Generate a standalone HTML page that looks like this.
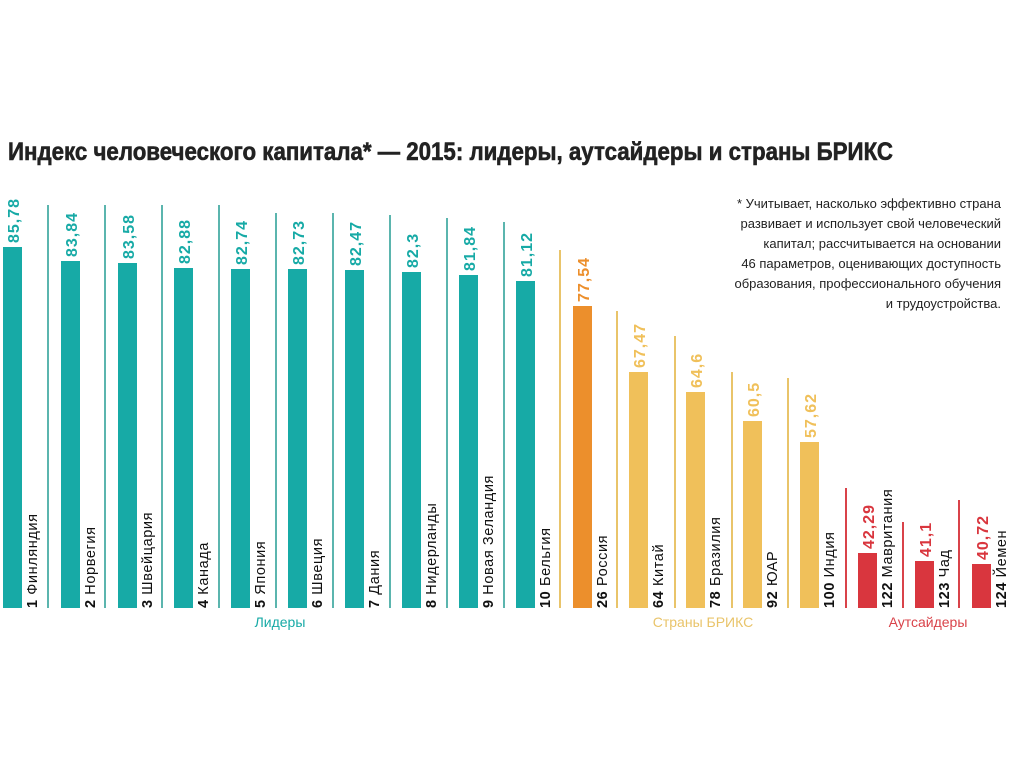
<!DOCTYPE html>
<html><head><meta charset="utf-8"><style>
body{margin:0;background:#fff;}
svg{display:block;font-family:"Liberation Sans","DejaVu Sans",sans-serif;}
</style></head><body>
<svg width="1024" height="767" viewBox="0 0 1024 767">
<text x="8" y="160" font-size="25" font-weight="bold" fill="#222" stroke="#222" stroke-width="0.6" textLength="885" lengthAdjust="spacingAndGlyphs">Индекс человеческого капитала* — 2015: лидеры, аутсайдеры и страны БРИКС</text>
<g font-size="13" fill="#222" text-anchor="end">
<text x="1001" y="208">* Учитывает, насколько эффективно страна</text>
<text x="1001" y="228">развивает и использует свой человеческий</text>
<text x="1001" y="248">капитал; рассчитывается на основании</text>
<text x="1001" y="268">46 параметров, оценивающих доступность</text>
<text x="1001" y="288">образования, профессионального обучения</text>
<text x="1001" y="308">и трудоустройства.</text>
</g>
<g stroke-width="2">
<line x1="48" y1="205" x2="48" y2="608" stroke="#5bb5ae"/>
<line x1="105" y1="205" x2="105" y2="608" stroke="#5bb5ae"/>
<line x1="162" y1="205" x2="162" y2="608" stroke="#5bb5ae"/>
<line x1="219" y1="205" x2="219" y2="608" stroke="#5bb5ae"/>
<line x1="276" y1="213" x2="276" y2="608" stroke="#5bb5ae"/>
<line x1="333" y1="213" x2="333" y2="608" stroke="#5bb5ae"/>
<line x1="390" y1="215" x2="390" y2="608" stroke="#5bb5ae"/>
<line x1="447" y1="218" x2="447" y2="608" stroke="#5bb5ae"/>
<line x1="504" y1="222" x2="504" y2="608" stroke="#5bb5ae"/>
<line x1="560" y1="250" x2="560" y2="608" stroke="#e9c46a"/>
<line x1="617" y1="311" x2="617" y2="608" stroke="#e9c46a"/>
<line x1="675" y1="336" x2="675" y2="608" stroke="#e9c46a"/>
<line x1="732" y1="372" x2="732" y2="608" stroke="#e9c46a"/>
<line x1="788" y1="378" x2="788" y2="608" stroke="#e9c46a"/>
<line x1="846" y1="488" x2="846" y2="608" stroke="#d9434a"/>
<line x1="903" y1="522" x2="903" y2="608" stroke="#d9434a"/>
<line x1="959" y1="500" x2="959" y2="608" stroke="#d9434a"/>
</g>
<g>
<rect x="3" y="247" width="19" height="361" fill="#17aaa6"/>
<rect x="61" y="261" width="19" height="347" fill="#17aaa6"/>
<rect x="118" y="263" width="19" height="345" fill="#17aaa6"/>
<rect x="174" y="268" width="19" height="340" fill="#17aaa6"/>
<rect x="231" y="269" width="19" height="339" fill="#17aaa6"/>
<rect x="288" y="269" width="19" height="339" fill="#17aaa6"/>
<rect x="345" y="270" width="19" height="338" fill="#17aaa6"/>
<rect x="402" y="272" width="19" height="336" fill="#17aaa6"/>
<rect x="459" y="275" width="19" height="333" fill="#17aaa6"/>
<rect x="516" y="281" width="19" height="327" fill="#17aaa6"/>
<rect x="573" y="306" width="19" height="302" fill="#ec8f2c"/>
<rect x="629" y="372" width="19" height="236" fill="#f0c05a"/>
<rect x="686" y="392" width="19" height="216" fill="#f0c05a"/>
<rect x="743" y="421" width="19" height="187" fill="#f0c05a"/>
<rect x="800" y="442" width="19" height="166" fill="#f0c05a"/>
<rect x="858" y="553" width="19" height="55" fill="#d9363e"/>
<rect x="915" y="561" width="19" height="47" fill="#d9363e"/>
<rect x="972" y="564" width="19" height="44" fill="#d9363e"/>
</g>
<g font-size="16" font-weight="bold" letter-spacing="1">
<text transform="translate(19,243) rotate(-90)" fill="#17aaa6">85,78</text>
<text transform="translate(77,257) rotate(-90)" fill="#17aaa6">83,84</text>
<text transform="translate(134,259) rotate(-90)" fill="#17aaa6">83,58</text>
<text transform="translate(190,264) rotate(-90)" fill="#17aaa6">82,88</text>
<text transform="translate(247,265) rotate(-90)" fill="#17aaa6">82,74</text>
<text transform="translate(304,265) rotate(-90)" fill="#17aaa6">82,73</text>
<text transform="translate(361,266) rotate(-90)" fill="#17aaa6">82,47</text>
<text transform="translate(418,268) rotate(-90)" fill="#17aaa6">82,3</text>
<text transform="translate(475,271) rotate(-90)" fill="#17aaa6">81,84</text>
<text transform="translate(532,277) rotate(-90)" fill="#17aaa6">81,12</text>
<text transform="translate(589,302) rotate(-90)" fill="#ec8f2c">77,54</text>
<text transform="translate(645,368) rotate(-90)" fill="#f0c05a">67,47</text>
<text transform="translate(702,388) rotate(-90)" fill="#f0c05a">64,6</text>
<text transform="translate(759,417) rotate(-90)" fill="#f0c05a">60,5</text>
<text transform="translate(816,438) rotate(-90)" fill="#f0c05a">57,62</text>
<text transform="translate(874,549) rotate(-90)" fill="#d9363e">42,29</text>
<text transform="translate(931,557) rotate(-90)" fill="#d9363e">41,1</text>
<text transform="translate(988,560) rotate(-90)" fill="#d9363e">40,72</text>
</g>
<g font-size="14.5" fill="#111" letter-spacing="0.6">
<text transform="translate(37,608) rotate(-90)"><tspan font-weight="bold">1</tspan> Финляндия</text>
<text transform="translate(95,608) rotate(-90)"><tspan font-weight="bold">2</tspan> Норвегия</text>
<text transform="translate(152,608) rotate(-90)"><tspan font-weight="bold">3</tspan> Швейцария</text>
<text transform="translate(208,608) rotate(-90)"><tspan font-weight="bold">4</tspan> Канада</text>
<text transform="translate(265,608) rotate(-90)"><tspan font-weight="bold">5</tspan> Япония</text>
<text transform="translate(322,608) rotate(-90)"><tspan font-weight="bold">6</tspan> Швеция</text>
<text transform="translate(379,608) rotate(-90)"><tspan font-weight="bold">7</tspan> Дания</text>
<text transform="translate(436,608) rotate(-90)"><tspan font-weight="bold">8</tspan> Нидерланды</text>
<text transform="translate(493,608) rotate(-90)"><tspan font-weight="bold">9</tspan> Новая Зеландия</text>
<text transform="translate(550,608) rotate(-90)"><tspan font-weight="bold">10</tspan> Бельгия</text>
<text transform="translate(607,608) rotate(-90)"><tspan font-weight="bold">26</tspan> Россия</text>
<text transform="translate(663,608) rotate(-90)"><tspan font-weight="bold">64</tspan> Китай</text>
<text transform="translate(720,608) rotate(-90)"><tspan font-weight="bold">78</tspan> Бразилия</text>
<text transform="translate(777,608) rotate(-90)"><tspan font-weight="bold">92</tspan> ЮАР</text>
<text transform="translate(834,608) rotate(-90)"><tspan font-weight="bold">100</tspan> Индия</text>
<text transform="translate(892,608) rotate(-90)"><tspan font-weight="bold">122</tspan> Мавритания</text>
<text transform="translate(949,608) rotate(-90)"><tspan font-weight="bold">123</tspan> Чад</text>
<text transform="translate(1006,608) rotate(-90)"><tspan font-weight="bold">124</tspan> Йемен</text>
</g>
<g font-size="14" text-anchor="middle">
<text x="280" y="627" fill="#17aaa6">Лидеры</text>
<text x="703" y="627" fill="#e9c46a">Страны БРИКС</text>
<text x="928" y="627" fill="#d9434a">Аутсайдеры</text>
</g>
</svg>
</body></html>
